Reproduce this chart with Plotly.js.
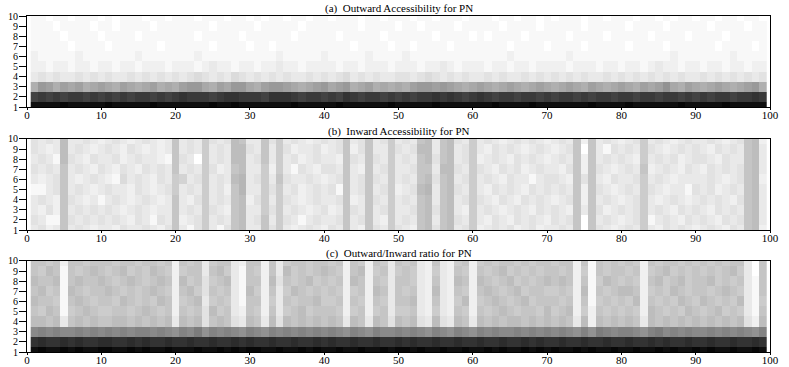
<!DOCTYPE html>
<html>
<head>
<meta charset="utf-8">
<script src="https://cdn.plot.ly/plotly-3.0.1.min.js"></script>
<style>body{margin:0;background:#fff}</style>
</head>
<body>
<div id="chart" style="width:789px;height:367px"></div>
<script>
// grey level of every cell as one base-36 digit: 0 = black ... z = white
// rows are listed from y = 10 (top) down to y = 1, columns run x = 1..99
var outwardRows = [
  "yyzyyzyyyz yzyyyzyyzy yyzyyyzyyz yzyyzyyzyy zyyyzyyzyy yzyyzyyyzy yyzyyzyyzy zyyyzyyzyy yzyyzyzyyz yyzyyzyyz",
  "yyyzyyyyzy yzyyyyzyyy yyyyzyyyyy zyyyyyzyyy yyyyzyyyyz yyzyyyyzyy yyyzyyyyzy yyyyzyyyyy zyyyyzyyyy yzyyyyzyy",
  "yyyyzyyyyz yyyyzyyyyy yyzyyyyyzy yyyyyzyyyy yzyyyyyzyy yyyyzyyyyz yzyyyyzyyy yyzyyyyzyy yyyzyyyyzy yyyzyyyyy",
  "yyyyyzyyyy zyyyyyyzyy yyyyzyyyyz yyzyyyyyyy yyyzyyyyzy yzyyyyzyyy yyyyzyyyyz yyyyzyyyyy zyyyyzyyyy yyzyyyyzy",
  "xyyyyyxyyy yyyyxyyyyy yyxyyyyyyy yyyxyyyyyx yyyyyxyyyy xyyyyyyyyy yyyyxyyyyy yyxyyyyyyy yyyyyyxyyy yyyyxyyyy",
  "xxyxxyxxyx xyxxyxxxyx xxyxwxxyxx yxxwxxyxxx xyxxyxxxyx xxyxxwxyxx xyxxyxxyxx xxyxxxyxxy xxyxwxxyxx yxxyxxyxx",
  "wvwvwwvwvw vwwvwvwvwv wvuvwvwuvw vwvwvwwvwv wvuwvwvwwv vwvuvwvwvw wvwvwwvwvw vwvwvwwvwv wvwvwvwvww vwvwvwvwv",
  "olmomnmonm nomnonmono mllnomnlln omllmnonml nmlonmonon omllmlmnon mnonmnonmn onmnomnonm nomnmknomn onmnonmlo",
  "9898988989 8989889898 7888987788 8977789889 8978988989 8988787898 7898898898 9889898898 8988988989 898898878",
  "2222122222 1222221222 2222122122 2222212222 2122222212 2222122222 2212222122 2222212222 1222222122 222122222"
];
var inwardRows = [
  "vwvwqwwvwx wvwxwvwxwr wvwsvwvqrw wrvswvwxwv wvrwvrwvsw vwrqwrqvws wvwxwvwvwx wvwrxrwvwx wvswvwxwvw wvwxwvrqx",
  "vwxwqwvwxw vwxvwxwxwr wvwswvwqqv wrwsvxwwvx wvrxvrwwsv wvqqwrqwvs wxvwvwxwvw xwvrzrwyvw vwsvwxwvwv wxvwvwrqw",
  "wvwyqvwxvw wvxwvwwxyr vwzswvwqqw vrwswvxwvw wxrvwrvwsw vwrqvrqwvs xwvwxvwvwx wvwrxrwvwv wxswvwvxwv vwxvwwrqw",
  "vwvwrwvwxv wxvwxvwvwr wvwsvxwrqw wsxswyvwxv vwrwxrwvsw wvrrwqqvws vwxvwvxwvw wxvrxrvwxw vwrxwvwxvw xvwvwvrqw",
  "wxwvrwxwvw xyuwvwxvws twvswvwqpw vswrvwwvwx wvrwvrvwsw vwrqvrqwvs wvwxvwwywv vwxrvrwxvw wvswvwxwww wvwxwvrqx",
  "yywvrwvwxw vwwxvwxwvs wvwswvxrpw wsvswvxwvw vyrwvrwvsx wvqpwrqvws wxvwvwxvwv wvwrxrvwxw vwsvwxwwyv wvxwvwrqw",
  "wvwxrvwxwy wvwxwvwxwr wxvswvwrqx vswsvwxwvw wvrxwrvwsw vwrqwrqwvs vwxvwxvwvw xwvrxrwvwx wvswxwvwxw vwvwxvrqw",
  "wxvxrwvwvw vwxwvwxwwr wvwsvwxrqw wsvswvwxwv xwrvwrwvsw wvrqvrqwxs wvwxwvwxvw vwxrwrvxwv wvswvwxvwv wxvwvwrqw",
  "vwyyrvwvwv wvwxvwyvwr xwvswvwrqw vrwsvwywvw wvrwvrwxsw vwrqwrqvws wxvwxvwvwx vwvrzrwvwx wvsywvwxvw vwxvwvrqw",
  "wvxwrwvwxw wxvwwvwxvr wyvswyvrqw wrvswxwvwx vwrwxrvwsv wxrqvrqwvs xwvwvxwvxw wvwrzrvwxw vwswxvwvwx wvwxvwrqx"
];
var ratioRows = [
  "rrsrxrrsrr rsrrsrrsrx rsrwsrrwxr rxrwsrrsrr srxrsxrswr srwxrwxsrx srsrrsrsrr srrxryrsrs rsxrsrrsrs rsrsrrwzr",
  "rsqryrsrqr srqsrsqrsx srrwrqswyr sxrwqsrsrq rsxrqxsrws rswxswxrsx rsrqsrsrsr rsrxsyrsrr srxsrqsrsr srsrqswzr",
  "qrrqyrqrrq rsrqrsrqrx qsrvsrqwyr rxqvrsrqsr srxqrxrswr rswxrwxqrx qrsrqsrsrq rqrxrysqrs rsxrqsrqsr rqsrsrwyr",
  "rqsryqrsrr qrsrsrqrsx rqsvrsrwyq sxrwsqrsrs rsxsrxqrwr srwxqwxrsx rqrsrqsrrs srsxqyrsrq qrxsrsqrsr rsrqrswyr",
  "qrrsyrqrsr rsqrsrsqrx srqwsrswyr rxswrsrrqs srxrsxrswr rqwxrwxsqx srqrsrqsrr rsrxrysrsr sqxrsrsqrs qrsrsqwys",
  "rsqrysrqrs srrsrqrsrx rsrvqsrwxr sxrwsrqsrr rsxsrxsrws srwxswxrsx rsrqrsrrsq srqxsxrsrs rsxqrsrsqr srqsrswyr",
  "qqrqwrqrqr rqqrqrqrqw qrqvrqrvwq rwqvqrqrqr qrwqrwqrvq rqvwqvwqrw qrqrqqrqrq rqrwqxqrqr qrwqrqrqrq rqrqrqvxq",
  "jijijjijij ijijiijijk ijhkijijki jkijijijij ijkijkijji jijkijkijk ijijjijiji jijkikhiji ijkihjijij jijijijki",
  "7677676776 6776767767 7677677676 7767767767 6776776776 7677677677 6776776767 7677677677 6776767767 767767767",
  "2122121221 1221212212 2212212121 1221221212 2122122121 1212212212 2121221212 1221212212 2122121221 212212212"
];
var yLevels = [1, 2, 3, 4, 5, 6, 7, 8, 9, 10];
var panelTitles = [
  "(a)\u00a0\u00a0Outward Accessibility for PN",
  "(b)\u00a0\u00a0Inward Accessibility for PN",
  "(c)\u00a0\u00a0Outward/Inward ratio for PN"
];

var xCols = [];
for (var i = 1; i <= 99; i++) xCols.push(i);

function toZ(rows) {
  return rows.slice().reverse().map(function (r) {
    return r.replace(/ /g, "").split("").map(function (c) { return parseInt(c, 36); });
  });
}

var panels = [outwardRows, inwardRows, ratioRows];
var domains = [[0.729, 1], [0.363, 0.634], [0, 0.271]];
var suffix = ["", "2", "3"];

var data = panels.map(function (rows, i) {
  return {
    type: "heatmap",
    x: xCols,
    y: yLevels,
    z: toZ(rows),
    zmin: 0,
    zmax: 35,
    colorscale: [[0, "rgb(0,0,0)"], [1, "rgb(255,255,255)"]],
    showscale: false,
    hoverinfo: "skip",
    xaxis: "x" + suffix[i],
    yaxis: "y" + suffix[i]
  };
});

var layout = {
  width: 789,
  height: 367,
  margin: {l: 27, r: 19, t: 16, b: 15},
  paper_bgcolor: "#fff",
  plot_bgcolor: "#fff",
  font: {family: "Liberation Serif, Times New Roman, serif", size: 11, color: "#000"},
  showlegend: false,
  annotations: []
};

panels.forEach(function (rows, i) {
  layout["xaxis" + suffix[i]] = {
    anchor: "y" + suffix[i],
    domain: [0, 1],
    range: [0, 100], tick0: 0, dtick: 10,
    ticks: "outside", ticklen: 2, tickcolor: "#000",
    ticklabelstandoff: -4,
    showline: true, linecolor: "#000", linewidth: 1, mirror: true,
    showgrid: false, zeroline: false,
    tickfont: {size: 11}
  };
  layout["yaxis" + suffix[i]] = {
    anchor: "x" + suffix[i],
    domain: domains[i],
    range: [1, 10], tick0: 1, dtick: 1,
    ticks: "outside", ticklen: 7, tickcolor: "#000",
    ticklabelstandoff: -1,
    showline: true, linecolor: "#000", linewidth: 1, mirror: true,
    showgrid: false, zeroline: false,
    tickfont: {size: 10}
  };
  layout.annotations.push({
    text: panelTitles[i],
    xref: "paper", yref: "paper",
    x: 0.5, y: domains[i][1],
    xanchor: "center", yanchor: "bottom",
    yshift: -1,
    showarrow: false,
    font: {size: 11}
  });
});

Plotly.newPlot("chart", data, layout, {displayModeBar: false, staticPlot: true});
</script>
</body>
</html>
